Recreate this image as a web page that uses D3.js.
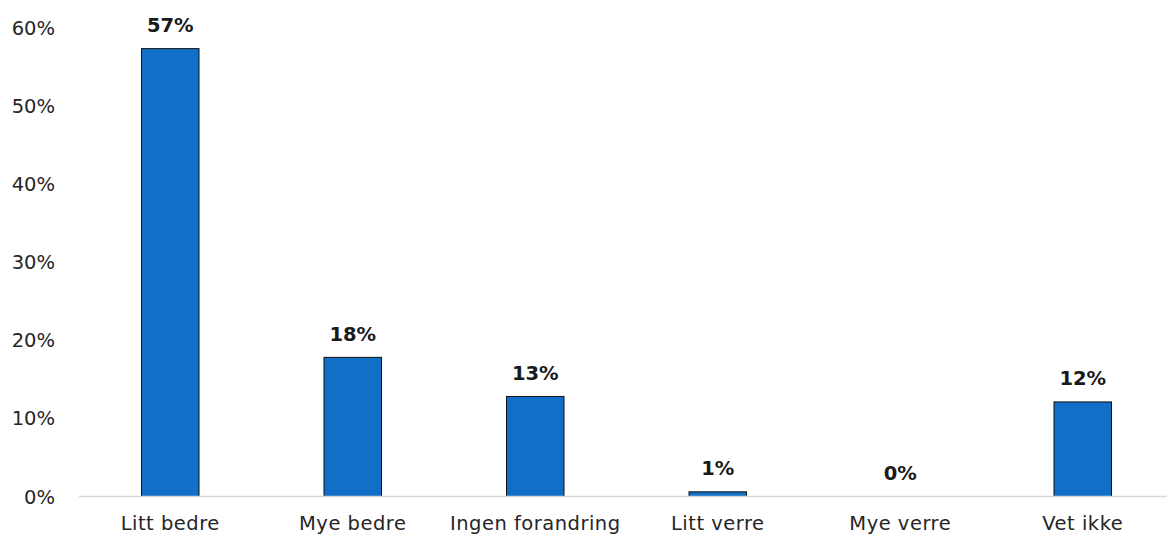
<!DOCTYPE html>
<html>
<head>
<meta charset="utf-8">
<script src="https://cdn.jsdelivr.net/npm/d3@7"></script>
<style>
  html, body { margin: 0; padding: 0; background: #fff; }
  svg { display: block; }
  text { font-family: "DejaVu Sans", "Lato", sans-serif; }
</style>
</head>
<body>
<svg id="chart" width="1167" height="535"></svg>
<script>
// Survey answers and share of respondents
const categories = ["Litt bedre", "Mye bedre", "Ingen forandring", "Litt verre", "Mye verre", "Vet ikke"];
const shares = [0.573, 0.178, 0.128, 0.006, 0.0, 0.121];
const yTicks = [0, 0.1, 0.2, 0.3, 0.4, 0.5, 0.6];

const W = 1167, H = 535;
const margin = { left: 79, right: -7, top: 27.5, bottom: 38.5 };

const svg = d3.select("#chart");

const x = d3.scaleBand()
  .domain(categories)
  .range([margin.left, W - margin.right])
  .padding(0);

const y = d3.scaleLinear()
  .domain([0, 0.6])
  .range([H - margin.bottom, margin.top]);

const barW = x.bandwidth() * 0.315;
const pct = d3.format(".0%");

// y tick labels (no axis line or gridlines)
svg.append("g")
  .selectAll("text")
  .data(yTicks)
  .join("text")
  .attr("x", 55)
  .attr("y", d => y(d))
  .attr("dy", "0.36em")
  .attr("text-anchor", "end")
  .attr("font-size", 19.5)
  .attr("fill", "#262626")
  .text(d => pct(d));

// bars
svg.append("g")
  .selectAll("rect")
  .data(categories)
  .join("rect")
  .attr("x", d => x(d) + (x.bandwidth() - barW) / 2)
  .attr("y", (d, i) => y(shares[i]))
  .attr("width", barW)
  .attr("height", (d, i) => y(0) - y(shares[i]))
  .attr("fill", "#116fc7")
  .attr("stroke", "#111")
  .attr("stroke-width", 1);

// baseline
svg.append("line")
  .attr("x1", margin.left)
  .attr("x2", W)
  .attr("y1", y(0))
  .attr("y2", y(0))
  .attr("stroke", "#d9d9d9")
  .attr("stroke-width", 1.5);

// value labels
svg.append("g")
  .selectAll("text")
  .data(categories)
  .join("text")
  .attr("x", d => x(d) + x.bandwidth() / 2)
  .attr("y", (d, i) => y(shares[i]) - 16.5)
  .attr("text-anchor", "middle")
  .attr("font-size", 19.5)
  .attr("font-weight", "bold")
  .attr("fill", "#1a1a1a")
  .text((d, i) => pct(shares[i]));

// category labels
svg.append("g")
  .selectAll("text")
  .data(categories)
  .join("text")
  .attr("x", d => x(d) + x.bandwidth() / 2)
  .attr("y", H - 5.5)
  .attr("text-anchor", "middle")
  .attr("font-size", 19.5)
  .attr("letter-spacing", 0.5)
  .attr("fill", "#262626")
  .text(d => d);
</script>
</body>
</html>
